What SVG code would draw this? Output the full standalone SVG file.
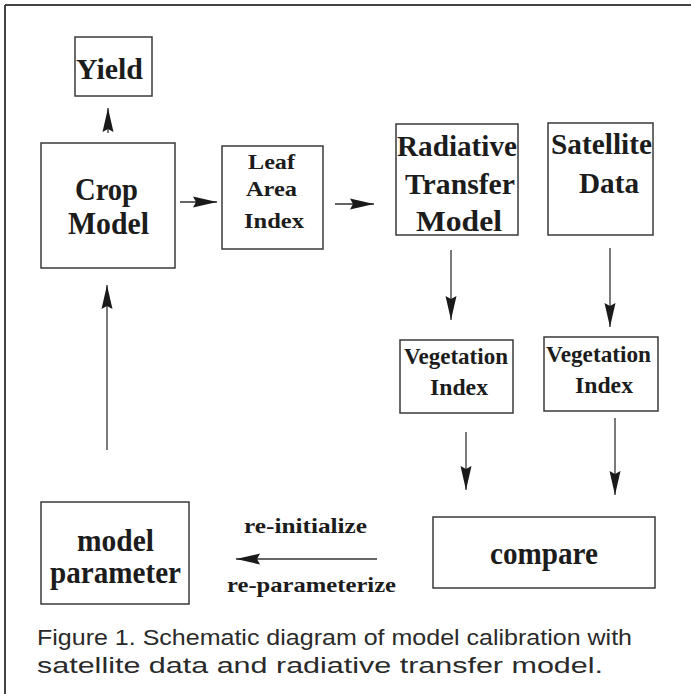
<svg xmlns="http://www.w3.org/2000/svg" width="691" height="694" viewBox="0 0 691 694">
<style>
.box{fill:#fff;stroke:#3a3a3a;stroke-width:1.5}
.t{font-family:"Liberation Serif","Times New Roman",serif;font-weight:bold;fill:#1c1c1c}
.ln{stroke:#333;stroke-width:1.3;fill:none;marker-end:url(#ah)}
.cap{font-family:"Liberation Sans",Arial,sans-serif;font-size:22px;fill:#2a2a2a}
</style>
<defs>
<marker id="ah" markerUnits="userSpaceOnUse" markerWidth="26" markerHeight="12" viewBox="0 0 26 12" refX="24" refY="6" orient="auto">
<path d="M0,0.5 L24,6 L0,11.5 L3,6 z" fill="#1a1a1a"/>
</marker>
</defs>
<rect x="0" y="0" width="691" height="694" fill="#fff"/>
<g id="frame" stroke="#444" stroke-width="2" fill="none">
<line x1="5" y1="5" x2="691" y2="5"/>
<line x1="5" y1="5" x2="5" y2="694"/>
</g>
<g id="connectors">
<line class="ln" x1="108" y1="133" x2="108" y2="108"/>
<line class="ln" x1="180" y1="202" x2="217" y2="202"/>
<line class="ln" x1="335" y1="204" x2="374" y2="204"/>
<line class="ln" x1="451" y1="250" x2="451" y2="320"/>
<line class="ln" x1="610" y1="248" x2="610" y2="327"/>
<line class="ln" x1="466" y1="432" x2="466" y2="490"/>
<line class="ln" x1="615" y1="418" x2="615" y2="495"/>
<line class="ln" x1="377" y1="559" x2="236" y2="559"/>
<line class="ln" x1="107" y1="450" x2="107" y2="285"/>
<text class="t" x="244" y="533" font-size="22" textLength="123" lengthAdjust="spacingAndGlyphs">re-initialize</text>
<text class="t" x="227" y="592" font-size="22" textLength="169" lengthAdjust="spacingAndGlyphs">re-parameterize</text>
</g>
<g id="yield">
<rect class="box" x="75" y="37" width="77" height="59"/>
<text class="t" x="76" y="79" font-size="30" textLength="67" lengthAdjust="spacingAndGlyphs">Yield</text>
</g>
<g id="crop-model">
<rect class="box" x="41" y="143" width="134" height="125"/>
<text class="t" x="75" y="200" font-size="32" textLength="63" lengthAdjust="spacingAndGlyphs">Crop</text>
<text class="t" x="68" y="234" font-size="32" textLength="81" lengthAdjust="spacingAndGlyphs">Model</text>
</g>
<g id="lai">
<rect class="box" x="222" y="146" width="101" height="103"/>
<text class="t" x="248" y="169" font-size="22" textLength="47" lengthAdjust="spacingAndGlyphs">Leaf</text>
<text class="t" x="246" y="196" font-size="22" textLength="51" lengthAdjust="spacingAndGlyphs">Area</text>
<text class="t" x="244" y="228" font-size="22" textLength="60" lengthAdjust="spacingAndGlyphs">Index</text>
</g>
<g id="rt-model">
<rect class="box" x="396" y="124" width="122" height="111"/>
<text class="t" x="397" y="156" font-size="30" textLength="120" lengthAdjust="spacingAndGlyphs">Radiative</text>
<text class="t" x="405" y="194" font-size="30" textLength="110" lengthAdjust="spacingAndGlyphs">Transfer</text>
<text class="t" x="416" y="231" font-size="30" textLength="86" lengthAdjust="spacingAndGlyphs">Model</text>
</g>
<g id="satellite-data">
<rect class="box" x="548" y="123" width="105" height="112"/>
<text class="t" x="551" y="154" font-size="30" textLength="101" lengthAdjust="spacingAndGlyphs">Satellite</text>
<text class="t" x="579" y="193" font-size="30" textLength="60" lengthAdjust="spacingAndGlyphs">Data</text>
</g>
<g id="vi-1">
<rect class="box" x="400" y="340" width="113" height="73"/>
<text class="t" x="404" y="364" font-size="23" textLength="104" lengthAdjust="spacingAndGlyphs">Vegetation</text>
<text class="t" x="430" y="395" font-size="23" textLength="58" lengthAdjust="spacingAndGlyphs">Index</text>
</g>
<g id="vi-2">
<rect class="box" x="544" y="337" width="114" height="74"/>
<text class="t" x="546" y="362" font-size="23" textLength="105" lengthAdjust="spacingAndGlyphs">Vegetation</text>
<text class="t" x="575" y="393" font-size="23" textLength="58" lengthAdjust="spacingAndGlyphs">Index</text>
</g>
<g id="compare">
<rect class="box" x="433" y="517" width="222" height="71"/>
<text class="t" x="490" y="564" font-size="31" textLength="108" lengthAdjust="spacingAndGlyphs">compare</text>
</g>
<g id="model-parameter">
<rect class="box" x="41" y="502" width="148" height="102"/>
<text class="t" x="77" y="551" font-size="31" textLength="77" lengthAdjust="spacingAndGlyphs">model</text>
<text class="t" x="50" y="583" font-size="31" textLength="131" lengthAdjust="spacingAndGlyphs">parameter</text>
</g>
<g id="caption">
<text class="cap" x="37" y="645" textLength="595" lengthAdjust="spacingAndGlyphs">Figure 1. Schematic diagram of model calibration with</text>
<text class="cap" x="37" y="673" textLength="566" lengthAdjust="spacingAndGlyphs">satellite data and radiative transfer model.</text>
</g>
</svg>
